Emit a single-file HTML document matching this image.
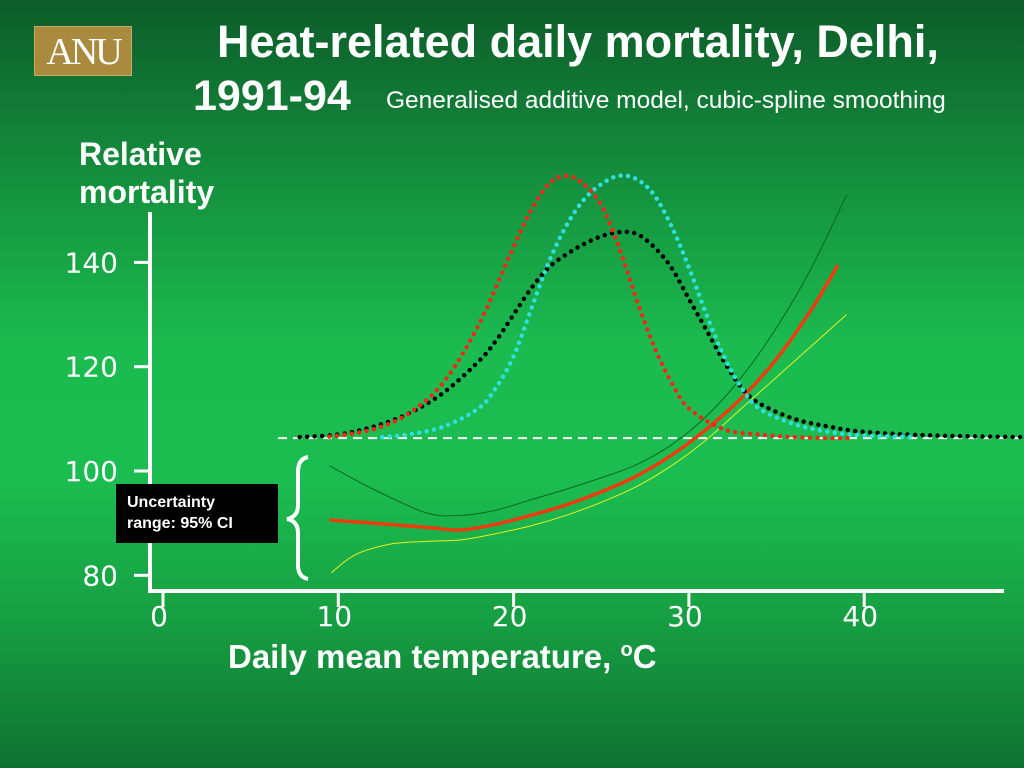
<!DOCTYPE html>
<html><head><meta charset="utf-8"><style>
body{margin:0;width:1024px;height:768px;overflow:hidden;font-family:"Liberation Sans",sans-serif;}
#bg{position:absolute;left:0;top:0;width:1024px;height:768px;background:linear-gradient(180deg,#0d5c2a 0%,#15933f 25%,#1bbb4f 45%,#1cbd50 62%,#17a043 80%,#0f7232 100%);}
.t{position:absolute;color:#fff;font-weight:bold;white-space:nowrap;}
</style></head><body>
<div id="bg"></div>
<div style="position:absolute;left:34px;top:26px;width:98px;height:50px;background:#a98a3e;border:1px solid #c9ab60;box-sizing:border-box;color:#fff;font-family:'Liberation Serif',serif;font-size:38px;line-height:50px;text-align:center;letter-spacing:-3px;">ANU</div>
<div class="t" style="left:217px;top:16px;font-size:45px;">Heat-related daily mortality, Delhi,</div>
<div class="t" style="left:193px;top:72px;font-size:43px;">1991-94</div>
<div class="t" style="left:386px;top:87px;font-size:24.5px;font-weight:normal;">Generalised additive model, cubic-spline smoothing</div>
<div class="t" style="left:79px;top:135px;font-size:32px;line-height:38px;">Relative<br>mortality</div>
<div class="t" style="left:228px;top:638px;font-size:33px;">Daily mean temperature, <sup style="font-size:20px">o</sup>C</div>
<svg id="chart" width="1024" height="768" style="position:absolute;left:0;top:0"></svg>
<div class="t" style="left:116px;top:484px;width:162px;height:59px;background:#000;font-size:16px;line-height:21px;padding:8px 0 0 11px;box-sizing:border-box;">Uncertainty<br>range: 95% CI</div>
<script>
const yTicks=[80,100,120,140];
const xTicks=[0,10,20,30,40];
const redT=[9.5,10,12,14,16,18,20,21,22,23,24,25,26,27,28,29,30,32,34,36,38,39.2];
const redV=[106.6,106.8,108,111,117,128,143,150,155,156.6,155,151,143,133,124,117,112,108,107,106.5,106.3,106.3];
const cyanT=[12.5,14,16,18,19,20,21,22,23,24,25,26,27,28,29,30,31,32,33,34,36,38,40,43];
const cyanV=[106.5,107,108.5,112,116,122,131,140,147,152,155,156.6,156,153,147,139,130,122,116,112,109,107.5,106.8,106.5];
const blackT=[7.8,10,12,14,16,18,19,20,21,22,23,24,25,26,27,28,29,30,31,32,33,34,36,38,40,44,49];
const blackV=[106.5,107,108.5,111,115,121,125,130,135,139,141.5,143.5,145,145.8,145.5,143,139,133,127,121,116,113,110,108.5,107.5,106.8,106.5];
const estT=[9.5,12,15,17,19,21,23,25,27,29,31,33,35,37,38.5];
const estV=[90.6,90,89.2,88.7,89.8,91.5,93.5,96,99,103,108,114,121.5,131,139.5];
const upT=[9.5,12,15,17,19,21,23,25,27,29,31,33,35,37,39];
const upV=[101,96.5,92,91.5,92.5,94.5,96.5,98.7,101.2,105,110.5,118,127.5,139,153];
const loT=[9.6,11,13,15,17,19,21,23,25,27,29,31,33,35,37,39];
const loV=[80.5,84,86,86.5,86.8,88,89.5,91.5,94,97,101,106,112,118,124,130];
const baseline=106.3;
const X=t=>163+t*17.53, Y=v=>471-(v-100)*5.215;
const svg=document.getElementById('chart'),NS='http://www.w3.org/2000/svg';
function mk(tag,a){const e=document.createElementNS(NS,tag);for(const k in a)e.setAttribute(k,a[k]);svg.appendChild(e);return e;}
function smooth(T,V){const p=T.map((t,i)=>[X(t),Y(V[i])]);let d='M'+p[0][0]+','+p[0][1];
for(let i=0;i<p.length-1;i++){const p0=p[i-1]||p[i],p1=p[i],p2=p[i+1],p3=p[i+2]||p2;
d+=' C'+(p1[0]+(p2[0]-p0[0])/6)+','+(p1[1]+(p2[1]-p0[1])/6)+' '+(p2[0]-(p3[0]-p1[0])/6)+','+(p2[1]-(p3[1]-p1[1])/6)+' '+p2[0]+','+p2[1];}return d;}
let e=mk('line',{x1:150,y1:212,x2:150,y2:591,stroke:'#fff','stroke-width':4});

e=mk('line',{x1:148,y1:591,x2:1004,y2:591,stroke:'#fff','stroke-width':4});

yTicks.forEach(v=>{let l=mk('line',{x1:134,y1:Y(v),x2:150,y2:Y(v),stroke:'#fff','stroke-width':3});

let t=mk('text',{x:118,y:Y(v)+10,fill:'#fff','font-size':28,'text-anchor':'end','font-family':'DejaVu Sans, sans-serif'});t.textContent=v;
});
xTicks.forEach(v=>{let l=mk('line',{x1:X(v),y1:591,x2:X(v),y2:607,stroke:'#fff','stroke-width':3});

let t=mk('text',{x:X(v)-4,y:626,fill:'#fff','font-size':28,'text-anchor':'middle','font-family':'DejaVu Sans, sans-serif'});t.textContent=v;
});
e=mk('line',{x1:278,y1:Y(baseline),x2:1024,y2:Y(baseline),stroke:'#fff','stroke-width':2,'stroke-dasharray':'9 6'});

e=mk('path',{d:'M308,457 Q298,459 298,472 L298,505 Q298,517 287,519 Q298,521 298,533 L298,565 Q298,577 308,579',fill:'none',stroke:'#fff','stroke-width':4});

[[upT,upV,'#0a6a1e',1,'ci-upper-line'],[loT,loV,'#e6f020',1,'ci-lower-line'],[estT,estV,'#f03a10',3.5,'estimate-line']].forEach(s=>{
let p=mk('path',{d:smooth(s[0],s[1]),fill:'none',stroke:s[2],'stroke-width':s[3]});
});
[[blackT,blackV,'#000','black-dotted-curve'],[cyanT,cyanV,'#2ee0e0','cyan-dotted-curve'],[redT,redV,'#f02818','red-dotted-curve']].forEach(s=>{
let p=mk('path',{d:smooth(s[0],s[1]),fill:'none',stroke:s[2],'stroke-width':4.5,'stroke-linecap':'round','stroke-dasharray':'0 7.5'});
});
</script>
</body></html>
